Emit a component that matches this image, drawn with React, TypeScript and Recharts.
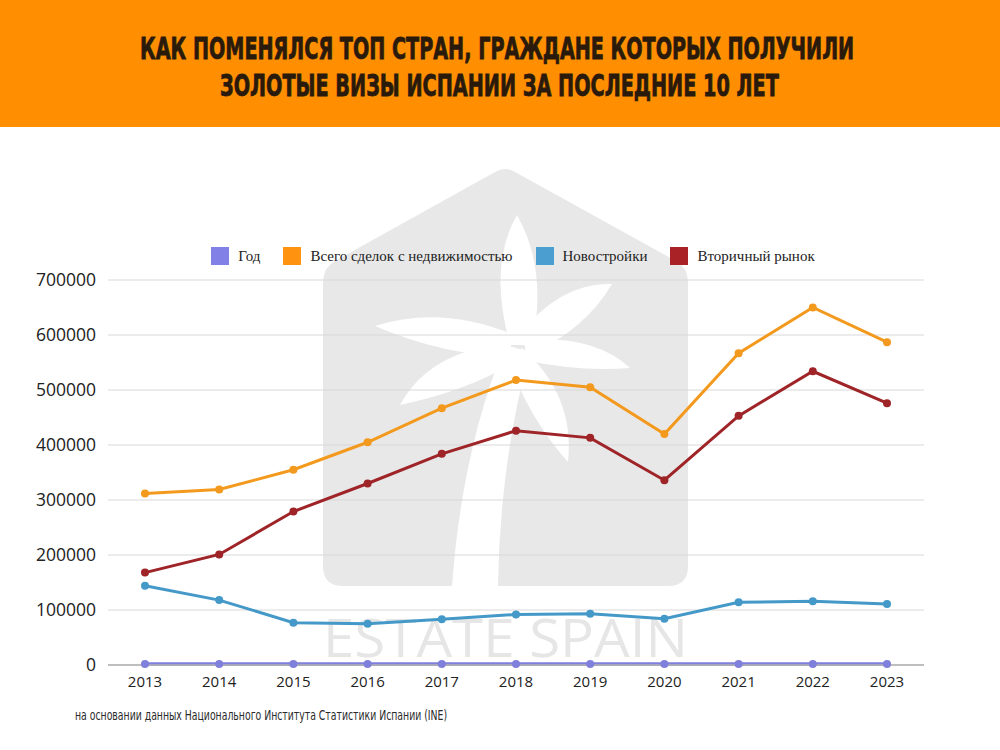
import React, { useLayoutEffect, useRef, useState } from 'react';
import { LineChart, Line, XAxis, YAxis, CartesianGrid, Legend } from 'recharts';

const years = ['2013', '2014', '2015', '2016', '2017', '2018', '2019', '2020', '2021', '2022', '2023'];
const yearValues = [2013, 2014, 2015, 2016, 2017, 2018, 2019, 2020, 2021, 2022, 2023];
const totalDeals = [312000, 319000, 355000, 405000, 467000, 518000, 505000, 420000, 567000, 650000, 587000];
const newBuilds = [144000, 118000, 77000, 75000, 83000, 92000, 93000, 84000, 114000, 116000, 111000];
const secondary = [168000, 201000, 279000, 330000, 384000, 426000, 413000, 336000, 453000, 534000, 476000];
const yTicks = [0, 100000, 200000, 300000, 400000, 500000, 600000, 700000];

const seriesNames = ['Год', 'Всего сделок с недвижимостью', 'Новостройки', 'Вторичный рынок'];
const seriesColors = ['#7f7fdc', '#f39a1e', '#4499c8', '#9e2428'];
const legendColors = ['#8080e6', '#ff9310', '#4a9fd0', '#a82226'];

const titleLines = [
  'КАК ПОМЕНЯЛСЯ ТОП СТРАН, ГРАЖДАНЕ КОТОРЫХ ПОЛУЧИЛИ',
  'ЗОЛОТЫЕ ВИЗЫ ИСПАНИИ ЗА ПОСЛЕДНИЕ 10 ЛЕТ',
];
const footnote = 'на основании данных Национального Института Статистики Испании (INE)';
const watermarkText = 'ESTATE SPAIN';

const data = years.map((y, i) => ({
  year: y,
  god: yearValues[i],
  total: totalDeals[i],
  newb: newBuilds[i],
  sec: secondary[i],
}));

const FitText = (props: any) => {
  const { x, y, width, children, ...rest } = props;
  const ref = useRef<SVGTextElement>(null);
  const [k, setK] = useState(0.5);
  useLayoutEffect(() => {
    if (ref.current) {
      const w = ref.current.getComputedTextLength();
      if (w > 0) setK(width / w);
    }
  }, [width, children]);
  return (
    <text ref={ref} transform={`translate(${x},${y}) scale(${k},1)`} x={0} y={0} {...rest}>
      {children}
    </text>
  );
};

const renderLegend = (props: any) => {
  const payload = [...(props.payload || [])].sort(
    (a: any, b: any) => seriesNames.indexOf(a.value) - seriesNames.indexOf(b.value)
  );
  return (
    <div style={{ display: 'flex', justifyContent: 'center', alignItems: 'center', paddingLeft: 26 }}>
      {payload.map((entry: any, i: number) => {
        const idx = seriesNames.indexOf(entry.value);
        return (
          <div key={i} style={{ display: 'flex', alignItems: 'center', marginRight: i < payload.length - 1 ? 23 : 0 }}>
            <div style={{ width: 18, height: 18, background: idx >= 0 ? legendColors[idx] : entry.color, marginRight: 9 }} />
            <span style={{ fontFamily: '"Liberation Serif", "DejaVu Serif", serif', fontSize: 15, color: '#222' }}>{entry.value}</span>
          </div>
        );
      })}
    </div>
  );
};

const XTick = (props: any) => {
  const { x, y, payload } = props;
  return (
    <text x={x} y={y + 14} textAnchor="middle" fontFamily='"Open Sans", "DejaVu Sans", sans-serif' fontSize={15} fill="#222">
      {payload.value}
    </text>
  );
};

const Watermark = () => (
  <svg width={1000} height={750} style={{ position: 'absolute', left: 0, top: 0 }}>
    <path
      d="M 343 586 Q 323 586 323 566 L 323 282 Q 323 268 335 261 L 495 172 Q 505 166 515 172 L 676 261 Q 688 268 688 282 L 688 566 Q 688 586 668 586 Z"
      fill="#e8e8e8"
    />
    <g fill="#ffffff">
      <path d="M 452 586 Q 462 450 505 345 L 530 352 Q 500 460 498 586 Z" />
      <path d="M 510 345 Q 488 265 517 215 Q 548 270 532 345 Z" />
      <path d="M 512 334 Q 440 305 375 326 Q 445 356 510 356 Z" />
      <path d="M 518 336 Q 560 282 612 284 Q 585 330 530 354 Z" />
      <path d="M 508 344 Q 430 350 400 405 Q 470 390 514 362 Z" />
      <path d="M 526 340 Q 595 335 630 368 Q 580 372 524 360 Z" />
      <path d="M 522 348 Q 575 395 568 462 Q 530 420 508 360 Z" />
    </g>
    <FitText
      x={323}
      y={657}
      width={365}
      fontFamily='"Open Sans", "DejaVu Sans", sans-serif'
      fontSize={53}
      fill="#e6e6e6"
    >
      {watermarkText}
    </FitText>
  </svg>
);

export default function App() {
  return (
    <div style={{ position: 'absolute', left: 0, top: 0, width: 1000, height: 750, background: '#ffffff', overflow: 'hidden' }}>
      <div style={{ position: 'absolute', left: 0, top: 0, width: 1000, height: 127, background: '#ff8e00' }}>
        <svg width={1000} height={127}>
          <FitText
            x={140}
            y={59}
            width={714}
            fontFamily='"Liberation Sans Narrow", "DejaVu Sans Condensed", "Liberation Sans", sans-serif'
            fontWeight="bold"
            fontSize={31}
            fill="#2a1a0c"
            stroke="#2a1a0c"
            strokeWidth={0.8}
          >
            {titleLines[0]}
          </FitText>
          <FitText
            x={220}
            y={96}
            width={559}
            fontFamily='"Liberation Sans Narrow", "DejaVu Sans Condensed", "Liberation Sans", sans-serif'
            fontWeight="bold"
            fontSize={31}
            fill="#2a1a0c"
            stroke="#2a1a0c"
            strokeWidth={0.8}
          >
            {titleLines[1]}
          </FitText>
        </svg>
      </div>
      <Watermark />
      <div style={{ position: 'absolute', left: 0, top: 0 }}>
        <LineChart width={1000} height={750} data={data} margin={{ top: 280, right: 76, bottom: 55, left: 8 }}>
          <CartesianGrid vertical={false} stroke="#d8d8d8" strokeWidth={1} />
          <XAxis
            dataKey="year"
            padding={{ left: 37, right: 37 }}
            axisLine={{ stroke: '#b0b0b0', strokeWidth: 1.5 }}
            tickLine={false}
            tick={<XTick />}
            interval={0}
            height={30}
          />
          <YAxis
            width={100}
            domain={[0, 700000]}
            ticks={yTicks}
            axisLine={false}
            tickLine={false}
            tickMargin={6}
            tick={{ fontFamily: '"Open Sans", "DejaVu Sans", sans-serif', fontSize: 17.5, fill: '#222' }}
            interval={0}
          />
          <Legend
            verticalAlign="middle"
            align="center"
            layout="horizontal"
            content={renderLegend}
            wrapperStyle={{ top: 247, left: 0, width: 1000 }}
          />
          <Line
            dataKey="god"
            name={seriesNames[0]}
            stroke={seriesColors[0]}
            strokeWidth={3.5}
            dot={{ r: 4, fill: seriesColors[0], stroke: seriesColors[0], strokeWidth: 0 }}
            isAnimationActive={false}
          />
          <Line
            dataKey="total"
            name={seriesNames[1]}
            stroke={seriesColors[1]}
            strokeWidth={3}
            dot={{ r: 4, fill: seriesColors[1], stroke: seriesColors[1], strokeWidth: 0 }}
            isAnimationActive={false}
          />
          <Line
            dataKey="newb"
            name={seriesNames[2]}
            stroke={seriesColors[2]}
            strokeWidth={3}
            dot={{ r: 4, fill: seriesColors[2], stroke: seriesColors[2], strokeWidth: 0 }}
            isAnimationActive={false}
          />
          <Line
            dataKey="sec"
            name={seriesNames[3]}
            stroke={seriesColors[3]}
            strokeWidth={3}
            dot={{ r: 4, fill: seriesColors[3], stroke: seriesColors[3], strokeWidth: 0 }}
            isAnimationActive={false}
          />
        </LineChart>
      </div>
      <svg width={1000} height={40} style={{ position: 'absolute', left: 0, top: 700 }}>
        <FitText
          x={75}
          y={20}
          width={372}
          fontFamily='"Liberation Sans Narrow", "DejaVu Sans Condensed", "Liberation Sans", sans-serif'
          fontSize={14}
          fill="#2a2a2a"
        >
          {footnote}
        </FitText>
      </svg>
    </div>
  );
}
